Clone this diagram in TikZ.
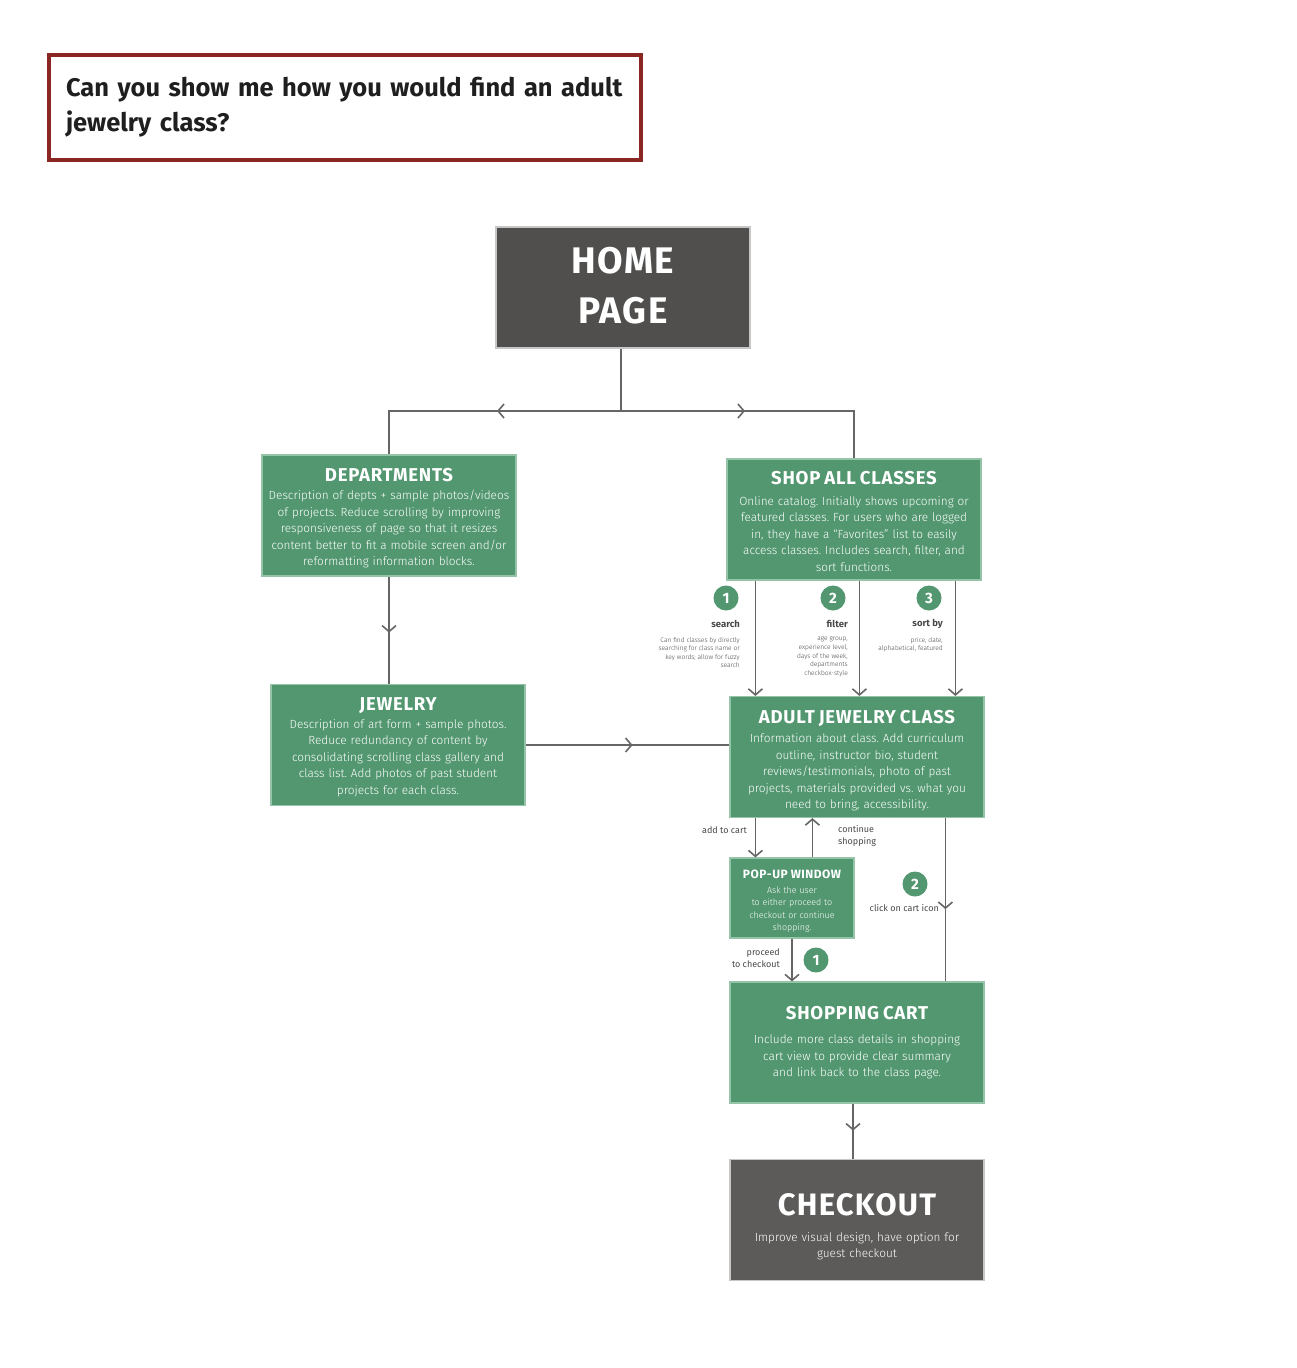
\documentclass[tikz,border=0pt]{standalone}
\usepackage{fontspec}
\setmainfont{Fira Sans}[UprightFont=* Light, BoldFont=* Bold]
\newfontfamily\headfont{Fira Sans}[UprightFont=* Bold, LetterSpace=4]
\newfontfamily\labelfont{Fira Sans}
\usetikzlibrary{arrows.meta,positioning,decorations.markings}
\frenchspacing

\definecolor{boxgreen}{RGB}{82,151,112}
\definecolor{boxedge}{RGB}{150,196,168}
\definecolor{homegray}{RGB}{80,79,77}
\definecolor{outgray}{RGB}{92,91,89}
\definecolor{linegray}{RGB}{102,102,102}
\definecolor{askred}{RGB}{138,38,36}
\definecolor{labelgray}{RGB}{72,72,72}

\tikzset{
  >={Straight Barb[length=6pt,width=14pt]},
  greenbox/.style={draw=boxedge, line width=1.2pt, fill=boxgreen, text=white,
    minimum width=254pt, minimum height=121pt, text width=248pt, align=center,
    inner sep=0pt, font=\fontsize{11.8}{16.5}\selectfont},
  graybox/.style={greenbox, fill=homegray, draw=gray!45},
  flow/.style={draw, color=linegray, line width=1.6pt},
  midarrow/.style={postaction={decorate},
    decoration={markings, mark=at position #1 with {\arrow{>}}}},
  badge/.style={circle, fill=boxgreen, text=white, minimum size=25pt, inner sep=0pt,
    font=\fontsize{15}{15}\selectfont\bfseries},
  steplabel/.style={text=labelgray, inner sep=0pt, font=\fontsize{9.5}{12}\selectfont\bfseries},
  tinynote/.style={text=labelgray, inner sep=0pt, align=right, font=\fontsize{6.6}{8.6}\selectfont},
  flowlabel/.style={text=labelgray, inner sep=0pt, font=\labelfont\fontsize{9}{12}\selectfont},
}

\begin{document}
\begin{tikzpicture}[x=1pt,y=-1pt]
  \useasboundingbox (0,0) rectangle (1296,1368);

  % question
  \node[draw=askred, line width=4pt, minimum width=592pt, minimum height=105pt,
    text width=558pt, inner xsep=17pt, align=left,
    text=black!88, font=\fontsize{25.5}{35}\selectfont\bfseries] (ask) at (345,107.5)
    {\mbox{Can you show me how you would find an adult}\\jewelry class?};

  % boxes
  \node[graybox] (home) at (623,287.5)
    {\headfont\fontsize{37}{50}\selectfont HOME\\PAGE\rule[-4pt]{0pt}{4pt}\par};

  \node[greenbox] (dept) at (389,515.5)
    {{\headfont\fontsize{18.6}{20}\selectfont\rule{0pt}{18.8pt}DEPARTMENTS\par}\vspace{2pt}
     Description of depts + sample photos/videos\\of projects. Reduce scrolling by improving\\
     responsiveness of page so that it resizes\\content better to fit a mobile screen and/or\\
     reformatting information blocks.};

  \node[greenbox] (shop) at (854,519.5)
    {{\headfont\fontsize{18.6}{20}\selectfont\rule{0pt}{16.8pt}SHOP ALL CLASSES\par}\vspace{4pt}
     Online catalog. Initially shows upcoming or\\featured classes. For users who are logged\\
     in, they have a “Favorites” list to easily\\access classes. Includes search, filter, and\\
     sort functions.};

  \node[greenbox] (jewel) at (398,745)
    {{\headfont\fontsize{18.6}{20}\selectfont\rule{0pt}{17.8pt}JEWELRY\par}\vspace{1pt}
     Description of art form + sample photos.\\Reduce redundancy of content by\\
     consolidating scrolling class gallery and\\class list. Add photos of past student\\
     projects for each class.};

  \node[greenbox] (adult) at (857,757)
    {{\headfont\fontsize{18.6}{20}\selectfont\rule{0pt}{20.8pt}ADULT JEWELRY CLASS\par}\vspace{3pt}
     Information about class. Add curriculum\\outline, instructor bio, student\\
     reviews/testimonials, photo of past\\projects, materials provided vs. what you\\
     need to bring, accessibility.};

  \node[greenbox, minimum width=124pt, minimum height=80pt, text width=120pt,
    font=\fontsize{8.9}{12.5}\selectfont] (pop) at (792,898)
    {{\headfont\fontsize{12}{13}\selectfont\rule{0pt}{15.3pt}POP-UP WINDOW\par}\vspace{2pt}
     Ask the user\\to either proceed to\\checkout or continue\\shopping.};

  \node[greenbox] (cart) at (857,1042.5)
    {{\headfont\fontsize{18.6}{20}\selectfont SHOPPING CART\par}\vspace{8pt}
     Include more class details in shopping\\cart view to provide clear summary\\
     and link back to the class page.};

  \node[graybox, fill=outgray] (out) at (857,1220)
    {{\headfont\fontsize{31}{34}\selectfont\rule{0pt}{35.4pt}CHECKOUT\par}\vspace{9pt}
     Improve visual design, have option for\\guest checkout};

  % connectors
  \coordinate (split) at (621,411);
  \draw[flow] (home.south -| split) -- (split);
  \draw[flow, midarrow=124pt] (split) -| (dept.north);
  \draw[flow, midarrow=124pt] (split) -| (shop.north);
  \draw[flow, midarrow=56pt] (dept.south) -- (dept.south |- jewel.north);
  \draw[flow, midarrow=107pt] (jewel.east) -- (jewel.east -| adult.west);

  \draw[flow, ->] ([xshift=29pt]shop.south west) -- ([xshift=29pt]shop.south west |- adult.north);
  \draw[flow, ->] ([xshift=133pt]shop.south west) -- ([xshift=133pt]shop.south west |- adult.north);
  \draw[flow, ->] ([xshift=229pt]shop.south west) -- ([xshift=229pt]shop.south west |- adult.north);

  \draw[flow, ->] ([xshift=26pt]pop.north west |- adult.south) -- ([xshift=26pt]pop.north west);
  \draw[flow, ->] ([xshift=83pt]pop.north west) -- ([xshift=83pt]pop.north west |- adult.south);
  \draw[flow, ->] (pop.south) -- (pop.south |- cart.north);
  \draw[flow, midarrow=91pt] ([xshift=216pt]adult.south west) -- ([xshift=216pt]adult.south west |- cart.north);
  \draw[flow, midarrow=27pt] ([xshift=-4pt]cart.south) -- ([xshift=-4pt]cart.south |- out.north);

  % badges and labels
  \node[badge] (b1) at (726,598) {1};
  \node[badge] (b2) at (833,598) {2};
  \node[badge] (b3) at (929,598) {3};
  \node[steplabel, anchor=east] (searchL) at (740,624) {search};
  \node[steplabel, anchor=east] (filterL) at (848,624) {filter};
  \node[steplabel, anchor=east] (sortL) at (943,624) {sort by};
  \node[tinynote, anchor=north east] (searchN) at (740,637)
    {Can find classes by directly\\searching for class name or\\key words; allow for fuzzy\\search};
  \node[tinynote, anchor=north east] (filterN) at (848,637)
    {age group,\\experience level,\\days of the week,\\departments\\checkbox-style};
  \node[tinynote, anchor=north east] (sortN) at (943,637)
    {price, date,\\alphabetical, featured};

  \node[flowlabel, anchor=east] (addL) at (747,830) {add to cart};
  \node[flowlabel, anchor=west, align=left] (contL) at (838,836) {continue\\shopping};
  \node[flowlabel, anchor=east, align=right] (procL) at (780,958) {proceed\\to checkout};
  \node[flowlabel, anchor=east] (iconL) at (939,908) {click on cart icon};
  \node[badge] (b4) at (915,884) {2};
  \node[badge] (b5) at (816,960) {1};
\end{tikzpicture}
\end{document}
